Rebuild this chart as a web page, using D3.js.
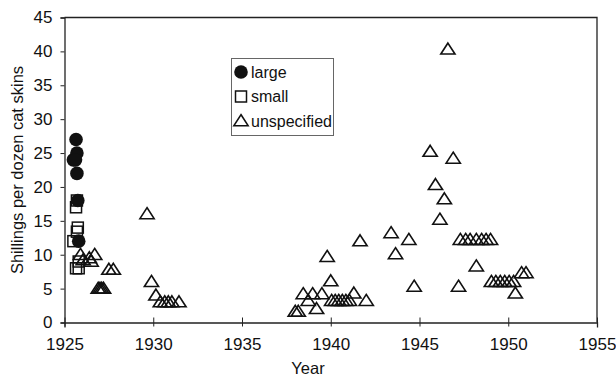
<!DOCTYPE html>
<html>
<head>
<meta charset="utf-8">
<script src="https://cdn.jsdelivr.net/npm/d3@7"></script>
<style>
  body { margin: 0; background: #fff; }
  svg { display: block; font-family: "Liberation Sans", Arial, sans-serif; }
  .mark { fill: none; stroke: #111; stroke-width: 1.5; }
</style>
</head>
<body>
<svg></svg>
<script>
const WIDTH = 616
const HEIGHT = 380

// data
const largeYear = [1925.65, 1925.7, 1925.5, 1925.62, 1925.7, 1925.75, 1925.8]
const largeValue = [27, 25, 24, 24, 22, 18, 12]

const smallYear = [1925.7, 1925.65, 1925.75, 1925.7, 1925.5, 1925.8, 1925.65, 1925.8]
const smallValue = [18, 17, 14, 13.4, 12, 9, 8, 8]

const unspecYear = [
  1925.9, 1926.05, 1926.4, 1926.5, 1926.7,
  1926.9, 1927.0, 1927.1, 1927.2, 1927.5, 1927.75,
  1929.65, 1929.9, 1930.15, 1930.4, 1930.65, 1930.85, 1931.05, 1931.45,
  1938.0, 1938.17, 1939.2, 1938.73, 1938.45, 1938.98, 1939.5,
  1939.8, 1940.0, 1940.05, 1940.25, 1940.45, 1940.65, 1940.85, 1941.05,
  1941.3, 1942.0, 1941.65,
  1943.4, 1943.65, 1944.4, 1944.7,
  1945.6, 1945.9, 1946.15, 1946.4, 1946.6, 1946.9, 1947.2,
  1947.3, 1947.6, 1947.85, 1948.2, 1948.5, 1948.75, 1949.0,
  1948.2,
  1949.05, 1949.3, 1949.55, 1949.8, 1950.05, 1950.3,
  1950.4, 1950.75, 1951.0
]
const unspecValue = [
  10, 9.2, 9.5, 9, 10,
  5, 5, 5, 5, 7.8, 7.8,
  16, 6, 4, 3, 3, 3, 3, 3,
  1.6, 1.6, 2, 3.2, 4.2, 4.2, 4.2,
  9.7, 6.1, 3.2, 3.2, 3.2, 3.2, 3.2, 3.2,
  4.3, 3.2, 12,
  13.2, 10.1, 12.2, 5.3,
  25.2, 20.3, 15.2, 18.2, 40.3, 24.2, 5.3,
  12.2, 12.2, 12.2, 12.2, 12.2, 12.2, 12.2,
  8.3,
  6, 6, 6, 6, 6, 6,
  4.3, 7.3, 7.3
]

const xTicks = [1925, 1930, 1935, 1940, 1945, 1950, 1955]
const yTicks = [0, 5, 10, 15, 20, 25, 30, 35, 40, 45]
const legendLabels = ['large', 'small', 'unspecified']

const svg = d3.select('svg')
  .attr('width', WIDTH)
  .attr('height', HEIGHT)

const x = d3.scaleLinear().domain([1925, 1955]).range([64.5, 597])
const y = d3.scaleLinear().domain([0, 45]).range([322.5, 17.5])

const zip = (xs, ys) => xs.map((d, i) => ({ year: d, value: ys[i] }))

// frame (top + right)
svg.append('path')
  .attr('d', `M${x(1925)},${y(45)}H${x(1955)}V${y(0)}`)
  .attr('fill', 'none')
  .attr('stroke', '#222')
  .attr('stroke-width', 1.3)

const xAxis = svg.append('g')
  .attr('transform', `translate(0,${y(0)})`)
  .call(d3.axisBottom(x).tickValues(xTicks).tickFormat(d3.format('d')).tickSize(5).tickPadding(10))
xAxis.selectAll('.tick line').attr('y1', -5).attr('y2', 4)

const yAxis = svg.append('g')
  .attr('transform', `translate(${x(1925)},0)`)
  .call(d3.axisLeft(y).tickValues(yTicks).tickSize(4).tickPadding(8))

svg.selectAll('.domain').attr('stroke', '#222').attr('stroke-width', 1.3)
svg.selectAll('.tick line').attr('stroke', '#222').attr('stroke-width', 1)
svg.selectAll('.tick text')
  .attr('font-family', '"Liberation Sans", Arial, sans-serif')
  .attr('font-size', 17)
  .attr('fill', '#111')

svg.append('text')
  .attr('x', 308)
  .attr('y', 374)
  .attr('text-anchor', 'middle')
  .attr('font-size', 16.5)
  .attr('fill', '#111')
  .text('Year')

svg.append('text')
  .attr('transform', `translate(23,${y(22.5)}) rotate(-90)`)
  .attr('text-anchor', 'middle')
  .attr('font-size', 16.5)
  .attr('fill', '#111')
  .text('Shillings per dozen cat skins')

const tri = d3.symbol().type(d3.symbolTriangle).size(70)

// unspecified triangles
svg.append('g').selectAll('path')
  .data(zip(unspecYear, unspecValue))
  .enter().append('path')
  .attr('class', 'mark')
  .attr('d', tri)
  .attr('transform', d => `translate(${x(d.year)},${y(d.value) + 1}) scale(1.12,1)`)
  .attr('fill', '#fff')

// small squares
svg.append('g').selectAll('rect')
  .data(zip(smallYear, smallValue))
  .enter().append('rect')
  .attr('class', 'mark')
  .attr('x', d => x(d.year) - 5.5)
  .attr('y', d => y(d.value) - 5.5)
  .attr('width', 11)
  .attr('height', 11)
  .attr('fill', '#fff')

// large circles
svg.append('g').selectAll('circle')
  .data(zip(largeYear, largeValue))
  .enter().append('circle')
  .attr('cx', d => x(d.year))
  .attr('cy', d => y(d.value))
  .attr('r', 6.8)
  .attr('fill', '#111')

// legend
const legend = svg.append('g')
legend.append('rect')
  .attr('x', 231.5).attr('y', 58.5)
  .attr('width', 102).attr('height', 77)
  .attr('fill', '#fff')
  .attr('stroke', '#666')
  .attr('stroke-width', 1)

const items = legend.selectAll('g.item')
  .data(legendLabels)
  .enter().append('g')
  .attr('transform', (d, i) => `translate(241,${72 + i * 24.5})`)

items.append('text')
  .attr('x', 10)
  .attr('dy', '0.35em')
  .attr('font-size', 16)
  .attr('fill', '#111')
  .text(d => d)

items.filter((d, i) => i == 0).append('circle').attr('r', 6.8).attr('fill', '#111')
items.filter((d, i) => i == 1).append('rect')
  .attr('class', 'mark').attr('x', -5.5).attr('y', -5.5).attr('width', 11).attr('height', 11).attr('fill', '#fff')
items.filter((d, i) => i == 2).append('path')
  .attr('class', 'mark').attr('d', tri).attr('transform', 'translate(0,1) scale(1.12,1)').attr('fill', '#fff')
</script>
</body>
</html>
